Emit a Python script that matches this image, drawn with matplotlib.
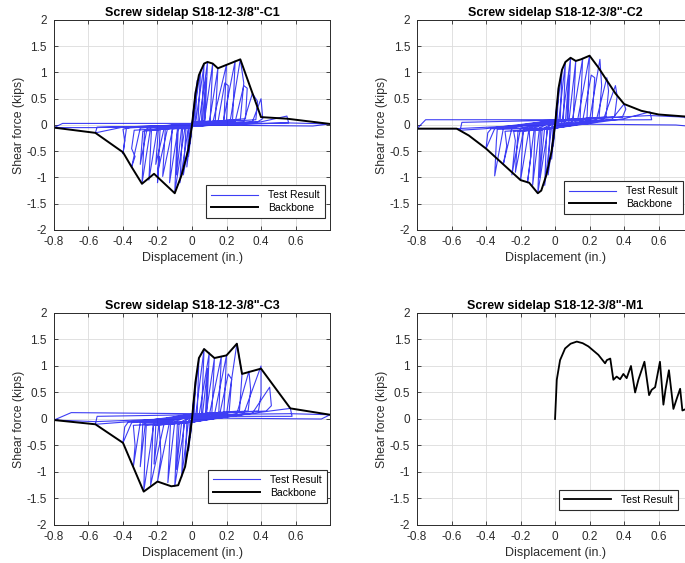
import numpy as np
import matplotlib
matplotlib.use("Agg")
import matplotlib.pyplot as plt
from matplotlib.ticker import FormatStrFormatter

plt.rcParams['font.family'] = ['Liberation Sans', 'DejaVu Sans']
plt.rcParams['axes.unicode_minus'] = False

# ---- data (displacement in., shear force kips) ----
titles = ["Screw sidelap S18-12-3/8\"-C1", "Screw sidelap S18-12-3/8\"-C2",
          "Screw sidelap S18-12-3/8\"-C3", "Screw sidelap S18-12-3/8\"-M1"]

c1_test = [
    (0, 0), (0.01, 0.35), (0.005, 0.04), (0, 0), (-0.01, -0.35), (-0.005, -0.04), (0, 0),
    (0.02, 0.65), (0.012, 0.06), (0, 0.01), (-0.02, -0.6), (-0.012, -0.06), (0, -0.01),
    (0.03, 0.85), (0.02, 0.07), (0, 0.01), (-0.03, -0.8), (-0.02, -0.07), (0, -0.01),
    (0.05, 1.05), (0.035, 0.07), (0, 0.02), (-0.05, -0.95), (-0.035, -0.07), (0, -0.02),
    (0.02, 0.03), (0.07, 1.15), (0.055, 0.08), (0, 0.02), (-0.02, -0.03), (-0.07, -1.1), (-0.055, -0.08), (0, -0.02),
    (0.04, 0.03), (0.09, 1.2), (0.075, 0.08), (0, 0.02), (-0.04, -0.04), (-0.1, -1.28), (-0.085, -0.08), (0, -0.02),
    (0.06, 0.03), (0.08, 0.9), (0.07, 0.07), (0, 0.02), (-0.06, -0.04), (-0.09, -0.95), (-0.08, -0.07), (0, -0.02),
    (0.07, 0.04), (0.12, 1.17), (0.105, 0.08), (0, 0.03), (-0.08, -0.04), (-0.13, -1.1), (-0.115, -0.08), (0, -0.03),
    (0.1, 0.04), (0.15, 1.08), (0.135, 0.08), (0, 0.03), (-0.11, -0.04), (-0.17, -0.98), (-0.155, -0.08), (0, -0.03),
    (0.12, 0.04), (0.2, 1.15), (0.185, 0.08), (0, 0.03), (-0.14, -0.04), (-0.2, -0.92), (-0.19, -0.6), (-0.2, -1.1), (-0.185, -0.08), (0, -0.03),
    (0.15, 0.05), (0.19, 0.8), (0.21, 0.75), (0.2, 0.08), (0, 0.03), (-0.16, -0.04), (-0.21, -0.75), (-0.195, -0.08), (0, -0.03),
    (0.18, 0.05), (0.25, 1.22), (0.235, 0.1), (0, 0.03), (-0.2, -0.05), (-0.25, -1.05), (-0.235, -0.1), (0, -0.03),
    (0.22, 0.05), (0.28, 1.25), (0.3, 0.8), (0.28, 0.1), (0, 0.03), (-0.24, -0.05), (-0.29, -1.12), (-0.275, -0.1), (0, -0.03),
    (0.25, 0.06), (0.3, 0.75), (0.32, 0.7), (0.31, 0.12), (0, 0.03), (-0.26, -0.06), (-0.3, -0.75), (-0.285, -0.12), (0, -0.03),
    (0.3, 0.06), (0.35, 0.6), (0.37, 0.5), (0.38, 0.45), (0.37, 0.1), (0, 0.03), (-0.3, -0.06), (-0.35, -0.8), (-0.33, -0.6), (-0.35, -0.45), (-0.335, -0.1), (0, -0.03),
    (0.35, 0.06), (0.4, 0.5), (0.41, 0.12), (0.38, 0.06), (0, 0.02), (-0.38, -0.06), (-0.4, -0.55), (-0.39, -0.3), (-0.4, -0.08), (-0.35, -0.04), (0, -0.03),
    (0.4, 0.06), (0.55, 0.17), (0.56, 0.04), (0, 0.01), (-0.4, -0.04), (-0.56, -0.15), (-0.55, -0.04), (0, -0.02),
    (0.55, 0.04), (0.8, 0.02), (0.7, -0.02), (0, 0.0), (-0.56, -0.05), (-0.8, -0.05), (-0.75, 0.03), (0, 0.03),
]
c1_backbone = [
    (-0.8, -0.05), (-0.56, -0.15), (-0.4, -0.52), (-0.35, -0.8), (-0.29, -1.12), (-0.22, -0.93),
    (-0.1, -1.3), (-0.06, -0.95), (-0.02, -0.45), (0, 0), (0.02, 0.6), (0.04, 0.95), (0.07, 1.17),
    (0.09, 1.2), (0.12, 1.17), (0.15, 1.08), (0.28, 1.25), (0.4, 0.15), (0.55, 0.12), (0.8, 0.02),
]

c2_test = [
    (0, 0), (0.01, 0.4), (0.005, 0.04), (0, 0), (-0.01, -0.4), (-0.005, -0.04), (0, 0),
    (0.02, 0.7), (0.012, 0.06), (0, 0.02), (-0.02, -0.65), (-0.012, -0.06), (0, -0.01),
    (0.04, 1.05), (0.03, 0.07), (0, 0.03), (-0.04, -0.95), (-0.03, -0.07), (0, -0.02),
    (0.02, 0.04), (0.06, 1.2), (0.048, 0.08), (0, 0.04), (-0.02, -0.03), (-0.06, -1.15), (-0.048, -0.08), (0, -0.03),
    (0.04, 0.05), (0.09, 1.28), (0.075, 0.1), (0, 0.05), (-0.04, -0.04), (-0.1, -1.3), (-0.085, -0.1), (0, -0.04),
    (0.06, 0.06), (0.08, 0.95), (0.07, 0.08), (0, 0.06), (-0.06, -0.05), (-0.09, -1.0), (-0.075, -0.08), (0, -0.04),
    (0.08, 0.06), (0.12, 1.22), (0.105, 0.1), (0, 0.07), (-0.09, -0.05), (-0.13, -1.15), (-0.115, -0.1), (0, -0.05),
    (0.1, 0.07), (0.16, 1.27), (0.145, 0.1), (0, 0.07), (-0.12, -0.05), (-0.16, -1.1), (-0.14, -0.6), (-0.15, -0.1), (0, -0.05),
    (0.13, 0.08), (0.2, 1.32), (0.185, 0.12), (0, 0.08), (-0.15, -0.06), (-0.2, -1.05), (-0.185, -0.12), (0, -0.06),
    (0.16, 0.08), (0.21, 0.95), (0.23, 0.9), (0.215, 0.12), (0, 0.08), (-0.18, -0.06), (-0.23, -0.9), (-0.215, -0.12), (0, -0.06),
    (0.2, 0.09), (0.26, 1.25), (0.27, 0.75), (0.255, 0.14), (0, 0.09), (-0.2, -0.06), (-0.25, -0.95), (-0.23, -0.3), (-0.24, -0.12), (0, -0.06),
    (0.24, 0.1), (0.3, 0.9), (0.31, 0.65), (0.295, 0.15), (0, 0.09), (-0.25, -0.06), (-0.3, -0.75), (-0.28, -0.4), (-0.29, -0.12), (0, -0.06),
    (0.28, 0.1), (0.35, 0.75), (0.36, 0.55), (0.345, 0.16), (0, 0.09), (-0.3, -0.07), (-0.35, -0.97), (-0.34, -0.3), (-0.335, -0.08), (0, -0.06),
    (0.33, 0.11), (0.4, 0.4), (0.41, 0.3), (0.39, 0.15), (0, 0.09), (-0.35, -0.07), (-0.4, -0.45), (-0.39, -0.15), (-0.37, -0.07), (0, -0.06),
    (0.4, 0.12), (0.55, 0.25), (0.56, 0.1), (0, 0.09), (-0.4, -0.07), (-0.55, -0.1), (-0.54, 0.05), (0, 0.09),
    (0.55, 0.18), (0.75, 0.15), (0.8, -0.03), (0.7, 0.0), (0, 0.02), (-0.57, -0.07), (-0.8, -0.07), (-0.75, 0.1), (0, 0.1),
]
c2_backbone = [
    (-0.8, -0.07), (-0.57, -0.07), (-0.5, -0.2), (-0.4, -0.45), (-0.3, -0.75), (-0.2, -1.05),
    (-0.15, -1.1), (-0.1, -1.3), (-0.08, -1.25), (-0.05, -0.95), (-0.02, -0.5), (0, 0),
    (0.02, 0.7), (0.04, 1.05), (0.06, 1.2), (0.09, 1.28), (0.12, 1.22), (0.15, 1.25), (0.2, 1.32),
    (0.25, 1.1), (0.3, 0.85), (0.35, 0.6), (0.4, 0.4), (0.5, 0.27), (0.6, 0.2), (0.8, 0.15),
]

c3_test = [
    (0, 0), (0.01, 0.4), (0.005, 0.04), (0, 0), (-0.01, -0.35), (-0.005, -0.04), (0, 0),
    (0.02, 0.7), (0.012, 0.06), (0, 0.02), (-0.02, -0.6), (-0.012, -0.06), (0, -0.01),
    (0.04, 1.15), (0.03, 0.07), (0, 0.03), (-0.04, -0.9), (-0.03, -0.07), (0, -0.02),
    (0.02, 0.04), (0.07, 1.32), (0.055, 0.08), (0, 0.04), (-0.02, -0.03), (-0.06, -1.1), (-0.048, -0.08), (0, -0.03),
    (0.04, 0.05), (0.1, 1.25), (0.085, 0.1), (0, 0.05), (-0.04, -0.04), (-0.1, -1.27), (-0.085, -0.1), (0, -0.04),
    (0.06, 0.06), (0.09, 0.95), (0.078, 0.08), (0, 0.06), (-0.06, -0.05), (-0.09, -0.95), (-0.075, -0.08), (0, -0.04),
    (0.08, 0.06), (0.13, 1.15), (0.115, 0.1), (0, 0.07), (-0.1, -0.05), (-0.14, -1.2), (-0.125, -0.1), (0, -0.05),
    (0.1, 0.07), (0.17, 1.18), (0.155, 0.1), (0, 0.07), (-0.13, -0.05), (-0.2, -1.18), (-0.18, -0.7), (-0.19, -0.1), (0, -0.05),
    (0.13, 0.08), (0.2, 1.2), (0.185, 0.12), (0, 0.08), (-0.16, -0.06), (-0.24, -1.25), (-0.225, -0.12), (0, -0.06),
    (0.16, 0.08), (0.21, 0.85), (0.23, 0.75), (0.215, 0.12), (0, 0.08), (-0.19, -0.06), (-0.22, -0.85), (-0.21, -0.12), (0, -0.06),
    (0.2, 0.09), (0.26, 1.42), (0.29, 0.85), (0.275, 0.15), (0, 0.09), (-0.22, -0.06), (-0.28, -1.37), (-0.27, -0.4), (-0.265, -0.12), (0, -0.06),
    (0.26, 0.1), (0.33, 0.9), (0.34, 0.55), (0.325, 0.15), (0, 0.09), (-0.27, -0.07), (-0.3, -0.9), (-0.29, -0.4), (-0.285, -0.08), (0, -0.06),
    (0.3, 0.1), (0.4, 1.0), (0.4, 0.45), (0.385, 0.15), (0, 0.09), (-0.3, -0.07), (-0.34, -0.9), (-0.33, -0.5), (-0.34, -0.12), (0, -0.06),
    (0.35, 0.11), (0.45, 0.6), (0.46, 0.25), (0.43, 0.15), (0, 0.09), (-0.35, -0.07), (-0.4, -0.45), (-0.39, -0.15), (-0.37, -0.06), (0, -0.05),
    (0.45, 0.15), (0.57, 0.2), (0.58, 0.05), (0, 0.05), (-0.4, -0.06), (-0.56, -0.1), (-0.55, 0.05), (0, 0.08),
    (0.57, 0.1), (0.8, 0.08), (0.75, 0.0), (0, 0.02), (-0.56, -0.05), (-0.8, -0.02), (-0.7, 0.12), (0, 0.1),
]
c3_backbone = [
    (-0.8, -0.02), (-0.56, -0.1), (-0.4, -0.45), (-0.28, -1.37), (-0.2, -1.18), (-0.12, -1.27),
    (-0.08, -1.25), (-0.04, -0.9), (-0.02, -0.5), (0, 0), (0.02, 0.7), (0.04, 1.15), (0.07, 1.32),
    (0.13, 1.15), (0.2, 1.2), (0.26, 1.42), (0.29, 0.85), (0.4, 0.95), (0.57, 0.2), (0.8, 0.08),
]

m1_disp = [0, 0.01, 0.029, 0.058, 0.09, 0.126, 0.16, 0.193, 0.251, 0.29, 0.3, 0.32, 0.338, 0.357,
           0.377, 0.396, 0.415, 0.44, 0.464, 0.483, 0.518, 0.545, 0.56, 0.58, 0.608, 0.628,
           0.64, 0.66, 0.686, 0.705, 0.725, 0.738, 0.76]
m1_force = [0, 0.74, 1.11, 1.33, 1.42, 1.46, 1.43, 1.37, 1.21, 1.05, 1.11, 1.14, 0.74, 0.8,
            0.75, 0.85, 0.77, 1.0, 0.5, 0.74, 1.08, 0.45, 0.55, 0.6, 1.08, 0.27,
            0.55, 0.92, 0.19, 0.38, 0.57, 0.16, 0.19]

xticks = [-0.8, -0.6, -0.4, -0.2, 0, 0.2, 0.4, 0.6]
yticks = [-2, -1.5, -1, -0.5, 0, 0.5, 1, 1.5, 2]

fig = plt.figure(figsize=(6.85, 5.63), dpi=100)
positions = [[0.0788, 0.5915, 0.403, 0.373], [0.6088, 0.5915, 0.403, 0.373],
             [0.0788, 0.0675, 0.403, 0.3766], [0.6088, 0.0675, 0.403, 0.3766]]
# legend corner (lower right) in axes fractions, per panel
legend_anchor = [(0.982, 0.057), (0.964, 0.075), (0.99, 0.105), (0.946, 0.07)]

cyclic = [(c1_test, c1_backbone), (c2_test, c2_backbone), (c3_test, c3_backbone)]
dark = "#2b2b2b"

for i, pos in enumerate(positions):
    ax = fig.add_axes(pos)
    if i < 3:
        test, bb = cyclic[i]
        tx, ty = zip(*test)
        bx, by = zip(*bb)
        ax.plot(tx, ty, color=(0.05, 0.05, 0.95), lw=0.8, alpha=0.8, label="Test Result")
        ax.plot(bx, by, color="black", lw=1.4, label="Backbone")
    else:
        ax.plot(m1_disp, m1_force, color="black", lw=1.3, label="Test Result")

    ax.set_xlim(-0.8, 0.8)
    ax.set_ylim(-2, 2)
    ax.set_xticks(xticks)
    ax.set_yticks(yticks)
    ax.xaxis.set_major_formatter(FormatStrFormatter('%g'))
    ax.yaxis.set_major_formatter(FormatStrFormatter('%g'))
    ax.grid(True, color="#dcdcdc", lw=0.6)
    ax.set_axisbelow(True)
    ax.tick_params(direction="in", length=3, width=0.6, top=True, right=True,
                   labelsize=8.5, colors=dark)
    ax.tick_params(axis="x", pad=4)
    ax.tick_params(axis="y", pad=5)
    for s in ax.spines.values():
        s.set_color(dark)
        s.set_linewidth(0.7)
    ax.set_title(titles[i], fontsize=9, fontweight="bold", pad=3)
    ax.set_xlabel("Displacement (in.)", fontsize=9, color=dark, labelpad=3)
    ax.set_ylabel("Shear force (kips)", fontsize=8.8, color=dark, labelpad=1)
    leg = ax.legend(loc="lower right", bbox_to_anchor=legend_anchor[i], borderaxespad=0,
                    fontsize=7.5, handlelength=4.5, fancybox=False, edgecolor=dark,
                    framealpha=1, labelspacing=0.25, handletextpad=1.0, borderpad=0.5)
    leg.get_frame().set_linewidth(0.8)

fig.savefig("out.png", dpi=100)
